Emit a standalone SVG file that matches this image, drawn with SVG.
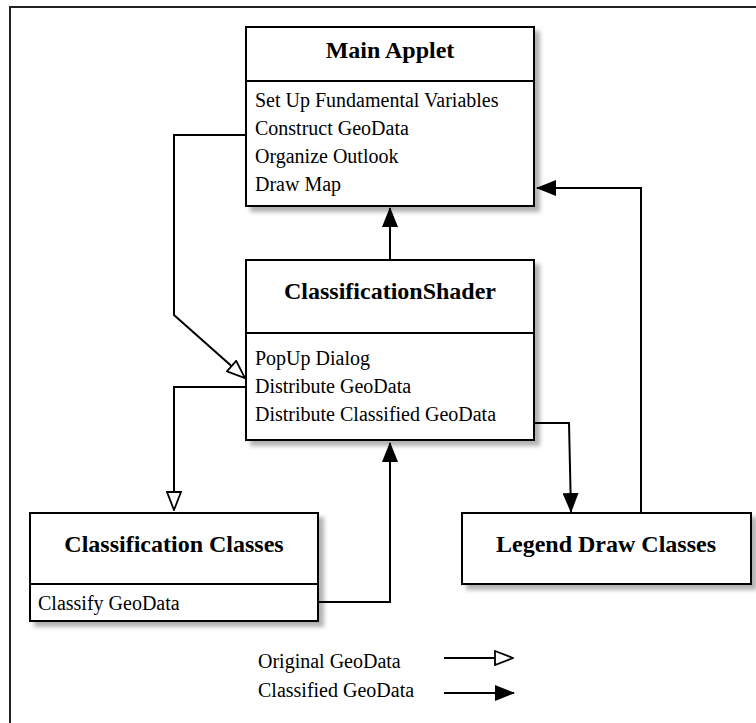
<svg xmlns="http://www.w3.org/2000/svg" width="756" height="723" viewBox="0 0 756 723">
<style>
.box{fill:#fff;stroke:#000;stroke-width:2;filter:url(#sh)}
.div{stroke:#000;stroke-width:2}
.title{font-family:"Liberation Serif",serif;font-weight:bold;font-size:24px;text-anchor:middle;fill:#000}
.item{font-family:"Liberation Serif",serif;font-size:20px;fill:#000}
.c{fill:none;stroke:#000;stroke-width:2}
</style>
<defs>
<filter id="sh" x="-10%" y="-10%" width="130%" height="130%">
<feDropShadow dx="5" dy="5" stdDeviation="2" flood-color="#000" flood-opacity="0.3"/>
</filter>
<marker id="open" viewBox="0 0 20 16" refX="19" refY="8" markerWidth="20" markerHeight="16" markerUnits="userSpaceOnUse" orient="auto">
<path d="M1,1 L19,8 L1,15 Z" fill="#fff" stroke="#000" stroke-width="1.8"/>
</marker>
<marker id="fill" viewBox="0 0 20 16" refX="19" refY="8" markerWidth="20" markerHeight="16" markerUnits="userSpaceOnUse" orient="auto">
<path d="M0,0 L20,8 L0,16 Z" fill="#000"/>
</marker>
</defs>
<rect width="756" height="723" fill="#fff"/>
<path d="M10,723 V7 H756" fill="none" stroke="#222" stroke-width="2"/>

<g id="connectors">
<path class="c" d="M246,135 H174 V315 L245,378" marker-end="url(#open)"/>
<path class="c" d="M246,387 H174 V510" marker-end="url(#open)"/>
<path class="c" d="M390,260 V208" marker-end="url(#fill)"/>
<path class="c" d="M318,602 H390 V443" marker-end="url(#fill)"/>
<path class="c" d="M534,423 H569 L571,512" marker-end="url(#fill)"/>
<path class="c" d="M641,513 V188 H537" marker-end="url(#fill)"/>
<path class="c" d="M444,658 H513" marker-end="url(#open)"/>
<path class="c" d="M444,693 H514" marker-end="url(#fill)"/>
</g>

<g id="main-applet">
<rect class="box" x="246" y="27" width="288" height="179"/>
<line class="div" x1="246" y1="81" x2="534" y2="81"/>
<text class="title" x="390" y="58">Main Applet</text>
<text class="item" x="255" y="107">Set Up Fundamental Variables</text>
<text class="item" x="255" y="135">Construct GeoData</text>
<text class="item" x="255" y="163">Organize Outlook</text>
<text class="item" x="255" y="191">Draw Map</text>
</g>

<g id="classification-shader">
<rect class="box" x="246" y="260" width="288" height="180"/>
<line class="div" x1="246" y1="333" x2="534" y2="333"/>
<text class="title" x="390" y="299">ClassificationShader</text>
<text class="item" x="255" y="365">PopUp Dialog</text>
<text class="item" x="255" y="393">Distribute GeoData</text>
<text class="item" x="255" y="421">Distribute Classified GeoData</text>
</g>

<g id="classification-classes">
<rect class="box" x="30" y="513" width="288" height="108"/>
<line class="div" x1="30" y1="584" x2="318" y2="584"/>
<text class="title" x="174" y="552">Classification Classes</text>
<text class="item" x="38" y="610">Classify GeoData</text>
</g>

<g id="legend-draw-classes">
<rect class="box" x="462" y="513" width="289" height="71"/>
<text class="title" x="606" y="552">Legend Draw Classes</text>
</g>

<g id="legend">
<text class="item" x="258" y="668">Original GeoData</text>
<text class="item" x="258" y="697">Classified GeoData</text>
</g>
</svg>
